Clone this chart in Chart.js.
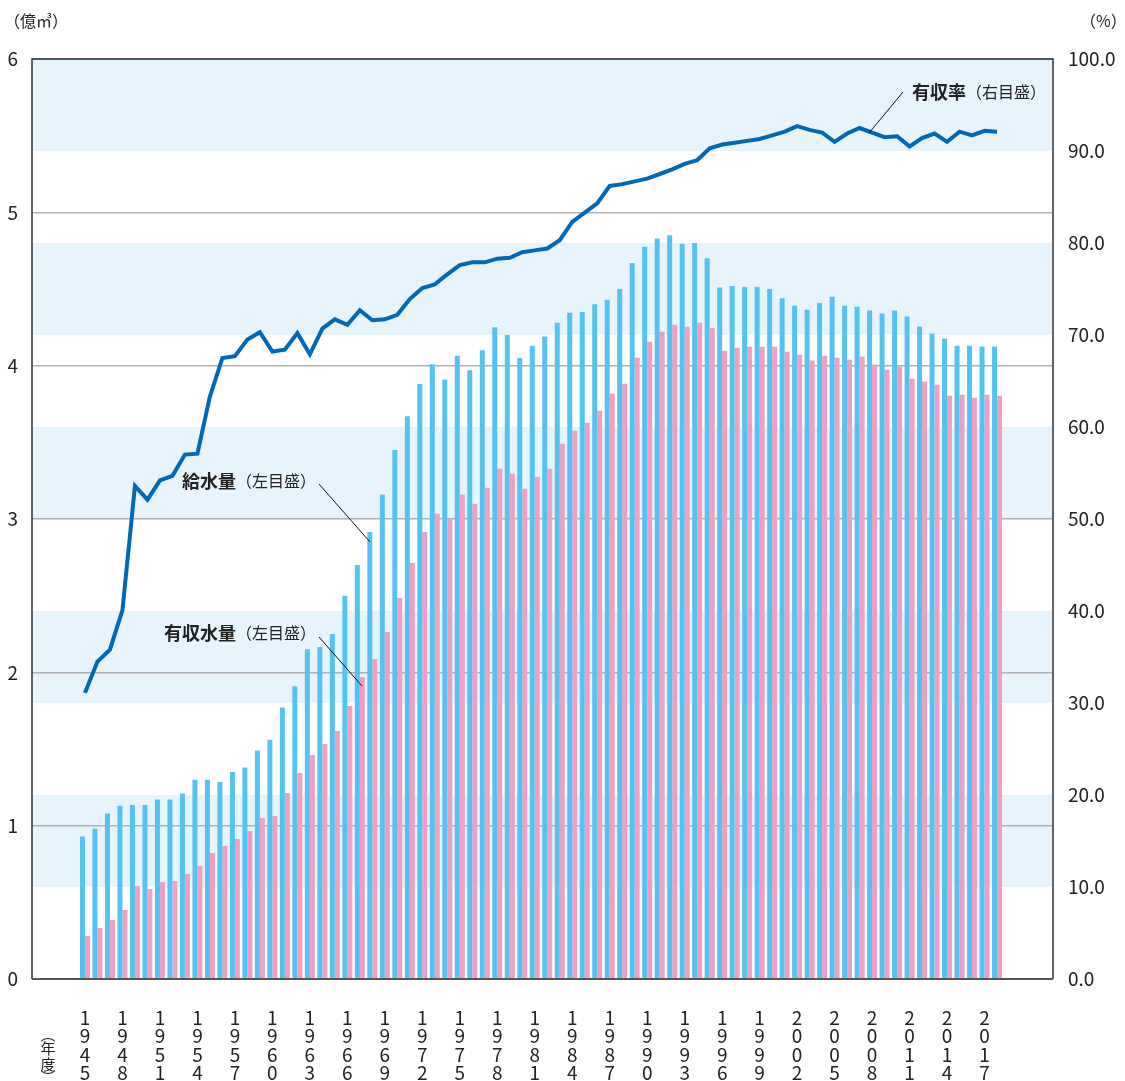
<!DOCTYPE html>
<html lang="ja">
<head>
<meta charset="utf-8">
<script src="https://cdn.jsdelivr.net/npm/chart.js@4/dist/chart.umd.min.js"></script>
<style>
html,body{margin:0;padding:0;background:#fff;}
#wrap{position:relative;width:1125px;height:1081px;}
</style>
</head>
<body>
<div id="wrap"><canvas id="myChart" width="1125" height="1081"></canvas></div>
<script>
// 年度
var years = [1945,1946,1947,1948,1949,1950,1951,1952,1953,1954,
  1955,1956,1957,1958,1959,1960,1961,1962,1963,1964,
  1965,1966,1967,1968,1969,1970,1971,1972,1973,1974,
  1975,1976,1977,1978,1979,1980,1981,1982,1983,1984,
  1985,1986,1987,1988,1989,1990,1991,1992,1993,1994,
  1995,1996,1997,1998,1999,2000,2001,2002,2003,2004,
  2005,2006,2007,2008,2009,2010,2011,2012,2013,2014,
  2015,2016,2017,2018];
var tickYears = [1945,1948,1951,1954,1957,1960,1963,1966,1969,1972,1975,1978,1981,
  1984,1987,1990,1993,1996,1999,2002,2005,2008,2011,2014,2017];

// 給水量（億㎥）
var supply = [0.93,0.98,1.08,1.13,1.135,1.135,1.17,1.17,1.21,1.30,
  1.30,1.285,1.35,1.38,1.49,1.56,1.77,1.91,2.15,2.165,
  2.25,2.50,2.70,2.915,3.16,3.45,3.67,3.88,4.01,3.91,
  4.065,3.97,4.10,4.25,4.20,4.05,4.13,4.19,4.28,4.345,
  4.35,4.40,4.43,4.50,4.67,4.775,4.83,4.85,4.795,4.80,
  4.70,4.51,4.52,4.515,4.515,4.50,4.44,4.39,4.365,4.41,
  4.45,4.39,4.385,4.36,4.34,4.36,4.32,4.255,4.21,4.175,
  4.13,4.13,4.125,4.125];
// 有収水量（億㎥）
var billed = [0.28,0.333,0.385,0.45,0.607,0.587,0.633,0.639,0.685,0.737,
  0.822,0.867,0.913,0.965,1.05,1.063,1.213,1.343,1.461,1.533,
  1.617,1.78,1.97,2.087,2.263,2.485,2.713,2.915,3.035,3.002,
  3.159,3.10,3.204,3.328,3.296,3.198,3.276,3.328,3.491,3.576,
  3.628,3.706,3.817,3.882,4.052,4.156,4.222,4.267,4.254,4.28,
  4.248,4.098,4.117,4.124,4.124,4.124,4.091,4.072,4.033,4.065,
  4.052,4.039,4.059,4.007,3.974,3.994,3.915,3.896,3.876,3.804,
  3.811,3.791,3.811,3.804];
// 有収率（%）
var rate = [31.1,34.5,35.8,40.1,53.6,52.1,54.2,54.7,57.0,57.1,
  63.3,67.5,67.7,69.5,70.3,68.2,68.4,70.2,67.9,70.7,
  71.7,71.1,72.7,71.6,71.7,72.2,73.9,75.1,75.5,76.6,
  77.6,77.9,77.9,78.3,78.4,79.0,79.2,79.4,80.3,82.3,
  83.3,84.3,86.2,86.4,86.7,87.0,87.5,88.0,88.6,89.0,
  90.3,90.7,90.9,91.1,91.3,91.7,92.1,92.7,92.3,92.0,
  91.0,91.9,92.5,92.0,91.5,91.6,90.5,91.4,91.9,91.0,
  92.1,91.7,92.2,92.1];

var JP = '"Noto Sans CJK JP", "Noto Sans", sans-serif';

function pts(arr) {
  return years.map(function(y, i){ return {x: y, y: arr[i]}; });
}

// light blue bands every other 10% on the right scale
var bands = {
  id: 'bands',
  beforeDraw: function(c) {
    var a = c.chartArea, s = c.scales.y1, g = c.ctx;
    g.save();
    g.fillStyle = '#e8f4fc';
    for (var v = 10; v < 100; v += 20) {
      var y1 = s.getPixelForValue(v + 10), y2 = s.getPixelForValue(v);
      g.fillRect(a.left, y1, a.right - a.left, y2 - y1);
    }
    g.restore();
  }
};

// frame + notes
var notes = {
  id: 'notes',
  afterDatasetsDraw: function(c) {
    var a = c.chartArea, g = c.ctx;
    g.save();
    g.strokeStyle = '#333';
    g.lineWidth = 1.5;
    g.beginPath();
    g.moveTo(a.left, a.bottom); g.lineTo(a.left, a.top); g.lineTo(a.right, a.top); g.lineTo(a.right, a.bottom);
    g.stroke();
    g.strokeStyle = '#555';
    g.lineWidth = 2;
    g.beginPath(); g.moveTo(a.left, a.bottom); g.lineTo(a.right, a.bottom); g.stroke();

    // leader lines
    g.strokeStyle = '#111';
    g.lineWidth = 1;
    g.beginPath();
    g.moveTo(903, 92); g.lineTo(869, 133);
    g.moveTo(319, 484); g.lineTo(370, 542);
    g.moveTo(319, 637); g.lineTo(362, 686);
    g.stroke();

    g.fillStyle = '#222';
    g.textBaseline = 'middle';
    function label(x, y, name, note) {
      g.font = 'bold 18px ' + JP;
      g.textAlign = 'right';
      g.fillText(name, x, y);
      g.font = '16px ' + JP;
      g.textAlign = 'left';
      g.fillText(note, x, y);
    }
    label(966, 92, '有収率', '（右目盛）');
    label(236, 481, '給水量', '（左目盛）');
    label(236, 633, '有収水量', '（左目盛）');

    // units
    g.font = '16px ' + JP;
    g.textAlign = 'left';
    g.fillText('（億㎥）', 4, 21);
    g.fillText('（%）', 1080, 21);
    // (年度) vertical
    g.font = '15px ' + JP;
    g.textAlign = 'center';
    var vt = ['︵', '年', '度', '︶'], vy = [1034, 1048, 1064, 1077];
    for (var i = 0; i < vt.length; i++) g.fillText(vt[i], 48, vy[i]);
    g.restore();
  }
};

var ctx = document.getElementById('myChart').getContext('2d');
var chart = new Chart(ctx, {
  type: 'bar',
  data: {
    datasets: [
      {
        type: 'line', label: '有収率', data: pts(rate), yAxisID: 'y1',
        borderColor: '#0068b7', borderWidth: 4, pointRadius: 0, tension: 0, order: 0
      },
      {
        label: '給水量', data: pts(supply), yAxisID: 'y',
        backgroundColor: '#55c3f0', barPercentage: 1, categoryPercentage: 0.8, order: 1
      },
      {
        label: '有収水量', data: pts(billed), yAxisID: 'y',
        backgroundColor: '#f19ec2', barPercentage: 1, categoryPercentage: 0.8, order: 1
      }
    ]
  },
  options: {
    responsive: false,
    animation: false,
    layout: {padding: {top: 59, left: 0, right: 0, bottom: 0}},
    plugins: {legend: {display: false}, tooltip: {enabled: false}},
    scales: {
      x: {
        type: 'linear', min: 1940.76, max: 2022.48, offset: false,
        afterBuildTicks: function(s){ s.ticks = tickYears.map(function(v){ return {value: v}; }); },
        afterFit: function(s){ s.height = 102; },
        grid: {display: false, offset: false},
        border: {display: false},
        ticks: {
          autoSkip: false, maxRotation: 0, padding: 21, color: '#222',
          font: {family: JP, size: 19, lineHeight: 0.98},
          callback: function(v){ return String(v).split(''); }
        }
      },
      y: {
        position: 'left', min: 0, max: 6,
        afterFit: function(s){ s.width = 32; },
        grid: {color: '#b0b0b0', lineWidth: 1.5, drawTicks: false},
        border: {display: false},
        ticks: {stepSize: 1, padding: 14, color: '#222', font: {family: JP, size: 19}}
      },
      y1: {
        position: 'right', min: 0, max: 100,
        afterFit: function(s){ s.width = 72; },
        grid: {display: false, drawTicks: false},
        border: {display: false},
        ticks: {
          stepSize: 10, padding: 15, color: '#222', font: {family: JP, size: 19},
          callback: function(v){ return v.toFixed(1); }
        }
      }
    }
  },
  plugins: [bands, notes]
});
</script>
</body>
</html>
